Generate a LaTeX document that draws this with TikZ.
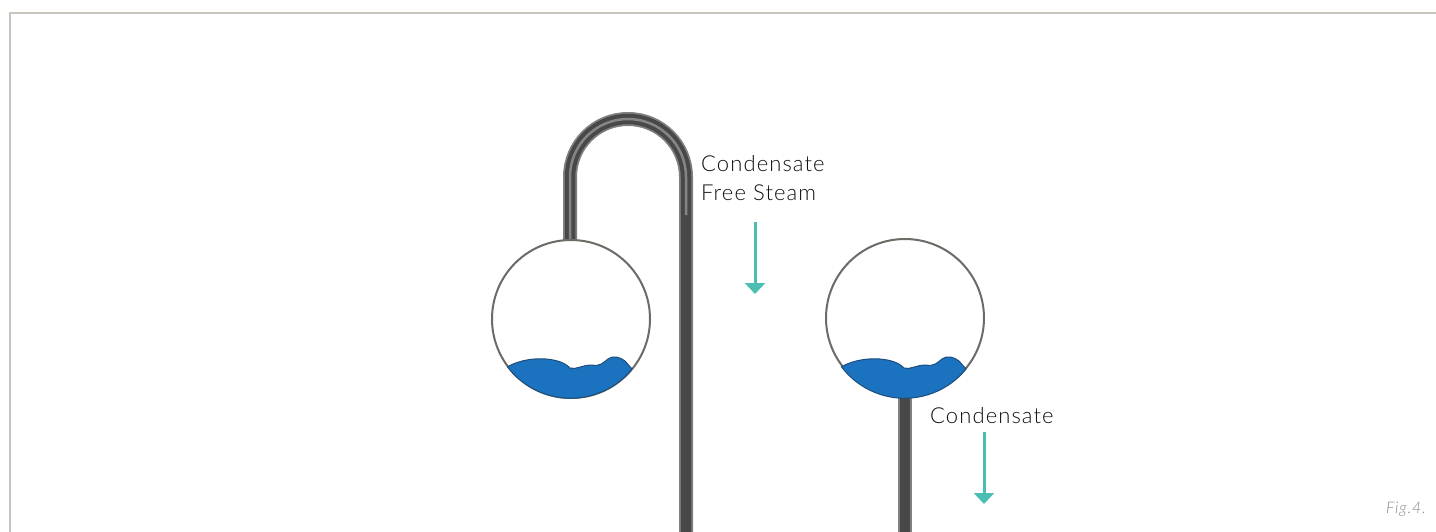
\documentclass[tikz,border=0pt]{standalone}
\usepackage{fontspec}
\setmainfont{Lato Light}[ItalicFont={Lato Light Italic},LetterSpace=5]
\usetikzlibrary{arrows.meta}
\definecolor{framec}{HTML}{C9C5BD}
\definecolor{rimc}{HTML}{6E6A66}
\definecolor{waterc}{HTML}{1B72BE}
\definecolor{watere}{HTML}{1D4E7E}
\definecolor{tealc}{HTML}{4ABFB1}
\definecolor{textc}{HTML}{111111}
\definecolor{figc}{HTML}{8F8B84}
\definecolor{pipec}{HTML}{484848}
\definecolor{pipel}{HTML}{858585}
\definecolor{pipee}{HTML}{808080}
\tikzset{
  pipeedge/.style={draw=pipee,line width=14pt},
  pipeouter/.style={draw=pipec,line width=10.5pt},
  pipeinner/.style={draw=pipel,line width=2.5pt},
  rim/.style={draw=rimc,line width=2pt},
  flow/.style={draw=tealc,line width=3pt,-{Triangle[length=11pt,width=20pt]}},
  lbl/.style={text=textc,font=\fontsize{22}{29}\selectfont,align=left,anchor=west,inner sep=0pt},
  figlbl/.style={text=figc,font=\fontsize{16}{18}\selectfont\itshape,anchor=east,inner sep=0pt},
  frameln/.style={draw=framec,line width=2pt}
}
\newcommand{\waterbody}{
  \fill[waterc,draw=watere,line width=1pt] (509,366) .. controls (520,360) and (535,358) .. (546,359)
    .. controls (556,360) and (564,362) .. (570,368)
    .. controls (576,370) and (582,365) .. (592,365)
    .. controls (600,367) and (604,362) .. (608,359)
    .. controls (613,355) and (620,357) .. (625,361)
    -- (632,369) arc[start angle=39,end angle=143,radius=79] -- cycle;
}
\begin{document}
\begin{tikzpicture}[x=1pt,y=-1pt]
\useasboundingbox (0,0) rectangle (1436,532);
\fill[white] (0,0) rectangle (1436,532);
\coordinate (fa) at (1436,13);
\coordinate (fb) at (10,13);
\coordinate (fc) at (10,532);
\draw[frameln] (fa) -- (fb) -- (fc);
% pipes
\coordinate (p1a) at (570,240);
\coordinate (p1b) at (570,177);
\coordinate (p1c) at (686,177);
\coordinate (p1d) at (686,532);
\coordinate (p1e) at (686,215);
\coordinate (p2a) at (905,396);
\coordinate (p2b) at (905,532);
\foreach \st in {pipeedge,pipeouter}{
  \draw[\st] (p1a) -- (p1b) arc[start angle=180,end angle=0,x radius=58,y radius=-58] -- (p1d);
  \draw[\st] (p2a) -- (p2b);
}
\draw[pipeinner] (p1a) -- (p1b) arc[start angle=180,end angle=0,x radius=58,y radius=-58] -- (p1e);
% drums
\node[circle,rim,fill=white,minimum size=158pt,inner sep=0pt] (d1) at (571,319) {};
\node[circle,rim,fill=white,minimum size=158pt,inner sep=0pt] (d2) at (905,318) {};
\begin{scope}\waterbody\end{scope}
\begin{scope}[shift={(334,0)}]\waterbody\end{scope}
% labels
\node[lbl] (t1) at (701,178) {Condensate\\Free Steam};
\node[lbl] (t2) at (930,416) {Condensate};
\node[figlbl] (t3) at (1426,509) {Fig.4.};
% arrows
\coordinate (a1s) at (755,222);
\coordinate (a1e) at (755,294);
\coordinate (a2s) at (984,432);
\coordinate (a2e) at (984,504);
\draw[flow] (a1s) -- (a1e);
\draw[flow] (a2s) -- (a2e);
\end{tikzpicture}
\end{document}
